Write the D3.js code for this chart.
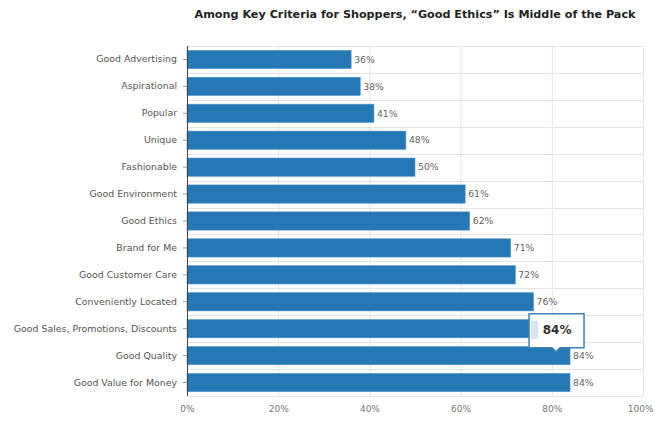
<!DOCTYPE html>
<html>
<head>
    <title>Key Criteria for Shoppers</title>
    <script type="text/javascript" src="https://cdnjs.cloudflare.com/ajax/libs/d3/7.8.5/d3.min.js"></script>
    <style>
        body { margin: 0; background: #fff; }
        text { font-family: "DejaVu Sans", Verdana, sans-serif; }
    </style>
</head>
<body>
<div id="chart"></div>
<script type="text/javascript">
    // data
    var categories = ["Good Advertising", "Aspirational", "Popular", "Unique", "Fashionable",
        "Good Environment", "Good Ethics", "Brand for Me", "Good Customer Care",
        "Conveniently Located", "Good Sales, Promotions, Discounts", "Good Quality",
        "Good Value for Money"];
    var values = [36, 38, 41, 48, 50, 61, 62, 71, 72, 76, 84, 84, 84];
    var xTicks = [0, 20, 40, 60, 80, 100];
    var hovered = "Good Sales, Promotions, Discounts"; // the tooltip in the shot

    var W = 654, H = 421;
    var margin = {top: 46, right: 11, bottom: 25, left: 187};

    var svg = d3.select('#chart').append('svg')
        .attr('width', W)
        .attr('height', H);

    svg.append('text')
        .attr('x', 415)
        .attr('y', 18)
        .attr('text-anchor', 'middle')
        .style('font-size', '11.2px')
        .style('font-weight', 'bold')
        .style('fill', '#222')
        .text('Among Key Criteria for Shoppers, \u201CGood Ethics\u201D Is Middle of the Pack');

    var x = d3.scaleLinear().domain([0, 100]).range([margin.left, W - margin.right]);
    var y = d3.scaleBand().domain(categories).range([margin.top, H - margin.bottom]).paddingInner(0.32).paddingOuter(0.16);

    var g = svg.append('g');

    // grid: vertical lines at ticks, horizontal between categories
    g.selectAll('.vgrid').data(xTicks.slice(1))
        .enter().append('line')
        .attr('x1', function(d){ return x(d) + 0.5; })
        .attr('x2', function(d){ return x(d) + 0.5; })
        .attr('y1', margin.top)
        .attr('y2', H - margin.bottom)
        .style('stroke', '#e4e4e4');

    var rowH = (H - margin.bottom - margin.top) / categories.length;
    g.selectAll('.hgrid').data(d3.range(categories.length + 1))
        .enter().append('line')
        .attr('x1', x(0))
        .attr('x2', x(100))
        .attr('y1', function(i){ return Math.round(margin.top + i * rowH) + 0.5; })
        .attr('y2', function(i){ return Math.round(margin.top + i * rowH) + 0.5; })
        .style('stroke', '#e4e4e4');

    // bars
    g.selectAll('rect.bar').data(categories)
        .enter().append('rect')
        .attr('class', 'bar')
        .attr('x', x(0))
        .attr('y', function(d){ return y(d); })
        .attr('width', function(d, i){ return x(values[i]) - x(0); })
        .attr('height', y.bandwidth())
        .style('fill', '#2677b6')
        .style('stroke', '#5a9bcf')
        .style('stroke-width', 0.6);

    // value labels (hidden for the hovered bar, the tooltip shows it)
    g.selectAll('text.val').data(categories.filter(function(d){ return d !== hovered; }))
        .enter().append('text')
        .attr('x', function(d){ return x(values[categories.indexOf(d)]) + 3; })
        .attr('y', function(d){ return y(d) + y.bandwidth() / 2; })
        .attr('dy', '0.35em')
        .style('font-size', '9.3px')
        .style('fill', '#666')
        .text(function(d){ return values[categories.indexOf(d)] + '%'; });

    // y axis
    var yAxis = svg.append('g')
        .attr('transform', 'translate(' + x(0) + ',0)')
        .call(d3.axisLeft(y).tickSize(4).tickPadding(6));
    yAxis.select('.domain').style('stroke', '#444').attr('d', 'M0.5,' + margin.top + 'V' + (H - margin.bottom));
    yAxis.selectAll('.tick line').style('stroke', '#999');
    yAxis.selectAll('.tick text').style('font-size', '9.4px').style('fill', '#555')
        .style('font-family', '"DejaVu Sans", Verdana, sans-serif');

    // x axis labels
    var xAxis = svg.append('g')
        .attr('transform', 'translate(0,' + (H - margin.bottom) + ')')
        .call(d3.axisBottom(x).tickValues(xTicks).tickSize(0).tickPadding(10).tickFormat(function(d){ return d + '%'; }));
    xAxis.select('.domain').remove();
    xAxis.selectAll('.tick text').style('font-size', '9px').style('fill', '#777')
        .style('font-family', '"DejaVu Sans", Verdana, sans-serif');
    xAxis.selectAll('.tick text').filter(function(d){ return d === 100; })
        .attr('text-anchor', 'end').attr('x', 10);

    // tooltip on the hovered bar
    var hi = categories.indexOf(hovered);
    var tx = x(values[hi]) - 14, ty = y(hovered) + y.bandwidth() / 2;
    var tip = svg.append('g').attr('transform', 'translate(' + tx + ',' + ty + ')');
    tip.append('path')
        .attr('d', 'M-27,-15H28V19H4L0,23L-4,19H-27Z')
        .style('fill', '#fff')
        .style('stroke', '#3f82b6')
        .style('stroke-width', 1.5);
    tip.append('rect')
        .attr('x', -25).attr('y', -8).attr('width', 7).attr('height', 18)
        .style('fill', '#d6e6f3');
    tip.append('text')
        .attr('x', 1).attr('y', 1)
        .attr('text-anchor', 'middle')
        .attr('dy', '0.35em')
        .style('font-size', '12px')
        .style('font-weight', '600')
        .style('fill', '#333')
        .text(values[hi] + '%');
</script>
</body>
</html>
